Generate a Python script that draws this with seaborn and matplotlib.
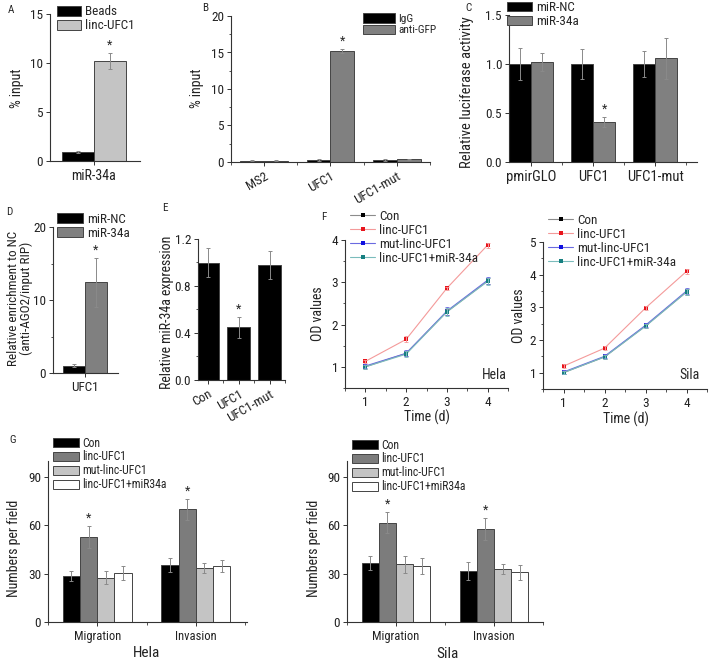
import pandas as pd
import numpy as np
import matplotlib
matplotlib.use("Agg")
import matplotlib.pyplot as plt
import seaborn as sns
from matplotlib.patches import Patch
from matplotlib.lines import Line2D
from matplotlib.ticker import MultipleLocator, FixedLocator

# ---- data ----
A_cats = ['miR-34a']
A_groups = ['Beads', 'linc-UFC1']
A_vals = [[0.9], [10.2]]
A_err = [[0.1], [0.8]]

B_cats = ['MS2', 'UFC1', 'UFC1-mut']
B_groups = ['IgG', 'anti-GFP']
B_vals = [[0.2, 0.3, 0.3], [0.2, 15.2, 0.35]]
B_err = [[0.04, 0.1, 0.1], [0.04, 0.3, 0.08]]

C_cats = ['pmirGLO', 'UFC1', 'UFC1-mut']
C_groups = ['miR-NC', 'miR-34a']
C_vals = [[1.0, 1.0, 1.0], [1.02, 0.41, 1.06]]
C_err = [[0.16, 0.15, 0.13], [0.09, 0.05, 0.21]]

D_cats = ['UFC1']
D_groups = ['miR-NC', 'miR-34a']
D_vals = [[1.0], [12.4]]
D_err = [[0.2], [3.3]]

E_cats = ['Con', 'UFC1', 'UFC1-mut']
E_vals = [1.0, 0.45, 0.98]
E_err = [0.12, 0.09, 0.12]

F_days = [1, 2, 3, 4]
F_groups = ['Con', 'linc-UFC1', 'mut-linc-UFC1', 'linc-UFC1+miR-34a']
F_hela = [[1.0, 1.32, 2.3, 3.03],
          [1.13, 1.65, 2.86, 3.88],
          [1.02, 1.32, 2.32, 3.05],
          [1.0, 1.3, 2.3, 3.02]]
F_hela_err = [[0.05, 0.06, 0.08, 0.07],
              [0.04, 0.07, 0.04, 0.06],
              [0.05, 0.07, 0.1, 0.08],
              [0.05, 0.07, 0.1, 0.08]]
F_sila = [[1.0, 1.48, 2.43, 3.47],
          [1.2, 1.75, 2.98, 4.1],
          [1.02, 1.5, 2.45, 3.5],
          [1.0, 1.48, 2.42, 3.47]]
F_sila_err = [[0.05, 0.06, 0.06, 0.1],
              [0.06, 0.07, 0.05, 0.07],
              [0.05, 0.06, 0.06, 0.1],
              [0.05, 0.06, 0.06, 0.1]]

G_cats = ['Migration', 'Invasion']
G_groups = ['Con', 'linc-UFC1', 'mut-linc-UFC1', 'linc-UFC1+miR34a']
G_hela = [[28.4, 35.5], [52.8, 70.0], [27.5, 33.5], [30.3, 34.8]]
G_hela_err = [[3.2, 4.3], [7.0, 6.5], [4.2, 3.2], [4.3, 3.5]]
G_sila = [[36.8, 31.8], [61.8, 57.8], [35.8, 32.8], [34.8, 30.8]]
G_sila_err = [[4.3, 5.5], [6.3, 7.0], [5.5, 3.2], [5.0, 4.5]]

# ---- style ----
FS = 9.5
AFS = 10
sns.set_style("ticks")
plt.rcParams['font.family'] = ['Roboto Condensed', 'Liberation Sans', 'DejaVu Sans']
plt.rcParams['font.size'] = FS
plt.rcParams['axes.labelsize'] = AFS
plt.rcParams['xtick.labelsize'] = FS
plt.rcParams['ytick.labelsize'] = FS
plt.rcParams['axes.linewidth'] = 0.8
plt.rcParams['axes.edgecolor'] = '#333333'
plt.rcParams['xtick.color'] = '#333333'
plt.rcParams['ytick.color'] = '#333333'
plt.rcParams['xtick.labelcolor'] = '#222222'
plt.rcParams['ytick.labelcolor'] = '#222222'
plt.rcParams['axes.labelcolor'] = '#222222'
plt.rcParams['xtick.major.size'] = 3
plt.rcParams['ytick.major.size'] = 3
plt.rcParams['xtick.minor.size'] = 1.8
plt.rcParams['ytick.minor.size'] = 1.8
plt.rcParams['xtick.major.width'] = 0.7
plt.rcParams['ytick.major.width'] = 0.7
plt.rcParams['xtick.major.pad'] = 2.5
plt.rcParams['ytick.major.pad'] = 2

W, H = 709, 661
fig = plt.figure(figsize=(W / 100, H / 100), dpi=100)
PX = 100 / 72  # pixels per point


def add_ax(l, t, r, b):
    ax = fig.add_axes([l / W, 1 - b / H, (r - l) / W, (b - t) / H])
    sns.despine(ax=ax)
    return ax


def fpos(x, y):
    return (x / W, 1 - y / H)


def bar_panel(ax, cats, groups, vals, errs, colors, width, stars=()):
    rows = []
    for g, v in zip(groups, vals):
        for c, y in zip(cats, v):
            rows.append({'cat': c, 'grp': g, 'val': y})
    df = pd.DataFrame(rows)
    sns.barplot(data=df, x='cat', y='val', hue='grp', hue_order=groups,
                palette=colors, width=width, errorbar=None,
                edgecolor='#444444', linewidth=0.7, saturation=1,
                legend=False, ax=ax)
    bars = [p for p in ax.patches if p.get_height() > 0]
    bars.sort(key=lambda p: p.get_x())
    nh = len(groups)
    for k, bar in enumerate(bars):
        i, j = divmod(k, nh)
        xc = bar.get_x() + bar.get_width() / 2
        ax.errorbar(xc, vals[j][i], yerr=errs[j][i], fmt='none',
                    ecolor='#8a8a8a', elinewidth=0.7, capsize=1.6,
                    capthick=0.7)
        if (j, i) in stars:
            ax.annotate('*', (xc, vals[j][i] + errs[j][i]),
                        xytext=(0, 1), textcoords='offset points',
                        ha='center', va='bottom', fontsize=9)
    ax.set_xlabel('')
    ax.set_ylabel('')


def legend_px(ax, handles, x, yc, fs, hw, hh, gap=0.3):
    # x: left of handle, yc: centre of first row, sizes in pixels
    fpx = fs * PX
    ax.legend(handles=handles, loc='upper left',
              bbox_to_anchor=fpos(x, yc - 0.55 * fpx),
              bbox_transform=fig.transFigure, frameon=False, borderpad=0,
              borderaxespad=0, handlelength=hw / fpx, handleheight=hh / fpx,
              labelspacing=0.08, handletextpad=gap, fontsize=fs)


def patch_legend(ax, groups, colors, x, yc, fs, hw, hh):
    handles = [Patch(facecolor=c, edgecolor='#444444', linewidth=0.7, label=g)
               for g, c in zip(groups, colors)]
    legend_px(ax, handles, x, yc, fs, hw, hh)


def minor_between(ax, n):
    ax.xaxis.set_minor_locator(FixedLocator(np.arange(-0.5, n, 1.0)))


def ylab(ax, text, x, y, **kw):
    # x is the right edge of the rotated label
    ax.set_ylabel(text, **kw)
    ax.yaxis.set_label_coords(*fpos(x, y), transform=fig.transFigure)


def xlab(ax, text, x, y, **kw):
    # y is the top edge of the label
    ax.set_xlabel(text, **kw)
    ax.xaxis.set_label_coords(*fpos(x, y), transform=fig.transFigure)


# ---- A ----
ax = add_ax(50, 14, 140, 161)
colA = ['#000000', '#c4c4c4']
bar_panel(ax, A_cats, A_groups, A_vals, A_err, colA, 0.8, stars={(1, 0)})
ax.set_ylim(0, 15)
ax.set_xlim(-0.55, 0.575)
ax.yaxis.set_major_locator(MultipleLocator(5))
ax.tick_params(axis='x', labelsize=10)
ylab(ax, '% input', 24, 88)
patch_legend(ax, A_groups, colA, 57, 12.5, 9.5, 24, 10)
fig.text(*fpos(8, 10), 'A', fontsize=8, va='center')

# ---- B ----
ax = add_ax(231, 16, 430, 162)
colB = ['#000000', '#808080']
bar_panel(ax, B_cats, B_groups, B_vals, B_err, colB, 0.72, stars={(1, 1)})
ax.set_ylim(0, 20)
ax.set_xlim(-0.5, 2.5)
ax.yaxis.set_major_locator(MultipleLocator(5))
ax.yaxis.set_minor_locator(MultipleLocator(2.5))
minor_between(ax, 3)
plt.setp(ax.get_xticklabels(), rotation=30, ha='right', rotation_mode='anchor')
ylab(ax, '% input', 204, 88)
patch_legend(ax, B_groups, colB, 363, 19.5, 8.2, 32, 10)
fig.text(*fpos(202, 8), 'B', fontsize=8, va='center')

# ---- C ----
ax = add_ax(509, 15, 697, 162)
colC = ['#000000', '#808080']
bar_panel(ax, C_cats, C_groups, C_vals, C_err, colC, 0.71, stars={(1, 1)})
ax.set_ylim(0, 1.5)
ax.set_xlim(-0.36, 2.67)
ax.yaxis.set_major_locator(MultipleLocator(0.5))
ax.yaxis.set_major_formatter(matplotlib.ticker.FormatStrFormatter('%.1f'))
minor_between(ax, 3)
ax.tick_params(axis='x', labelsize=10.5)
ylab(ax, 'Relative luciferase activity', 474, 92, fontsize=10.5)
patch_legend(ax, C_groups, colC, 507, 8, 9.5, 25, 9)
fig.text(*fpos(465, 8), 'C', fontsize=8, va='center')

# ---- D ----
ax = add_ax(53, 227, 118, 373)
colD = ['#000000', '#808080']
bar_panel(ax, D_cats, D_groups, D_vals, D_err, colD, 0.8, stars={(1, 0)})
ax.set_ylim(0, 20)
ax.set_xlim(-0.58, 0.6)
ax.yaxis.set_major_locator(MultipleLocator(10))
ax.yaxis.set_minor_locator(MultipleLocator(5))
ylab(ax, 'Relative enrichment to NC\n(anti-AGO2/input RIP)', 33, 298,
     linespacing=1.0, fontsize=9.5)
patch_legend(ax, D_groups, colD, 57, 220, 9.5, 26, 9.5)
fig.text(*fpos(6, 212), 'D', fontsize=8, va='center')

# ---- E ----
ax = add_ax(198, 239, 285, 380)
bar_panel(ax, E_cats, ['E'], [E_vals], [E_err], ['#000000'], 0.74,
          stars={(0, 1)})
ax.set_ylim(0, 1.2)
ax.set_xlim(-0.32, 2.5)
ax.yaxis.set_major_locator(MultipleLocator(0.4))
ax.yaxis.set_minor_locator(MultipleLocator(0.2))
ax.yaxis.set_major_formatter(matplotlib.ticker.FormatStrFormatter('%.1f'))
minor_between(ax, 3)
plt.setp(ax.get_xticklabels(), rotation=30, ha='right', rotation_mode='anchor')
ylab(ax, 'Relative miR-34a expression', 174, 312)
fig.text(*fpos(162, 208), 'E', fontsize=8, va='center')

# ---- F ----
F_mark = ['#000000', '#e8141c', '#1010e0', '#167f80']
F_line = ['#8c8c8c', '#f49a9a', '#6a6ae0', '#7bbcbc']


def line_panel(ax, vals, errs, ymax, name, leg_x, leg_y, txt_xy):
    rows = []
    for g, v in zip(F_groups, vals):
        for d, y in zip(F_days, v):
            rows.append({'day': d, 'od': y, 'grp': g})
    df = pd.DataFrame(rows)
    sns.lineplot(data=df, x='day', y='od', hue='grp', hue_order=F_groups,
                 palette=F_mark, marker='s', markersize=3.2, linewidth=0.8,
                 markeredgewidth=0, legend=False, ax=ax)
    for ln, lc, mc in zip(ax.lines, F_line, F_mark):
        ln.set_color(lc)
        ln.set_markerfacecolor(mc)
        ln.set_markeredgecolor(mc)
    for v, e, lc in zip(vals, errs, F_line):
        ax.errorbar(F_days, v, yerr=e, fmt='none', ecolor=lc, elinewidth=0.7,
                    capsize=1.5, capthick=0.6)
    ax.set_xlim(0.5, 4.5)
    ax.set_ylim(0.5, ymax)
    ax.xaxis.set_major_locator(MultipleLocator(1))
    ax.xaxis.set_minor_locator(MultipleLocator(0.5))
    ax.yaxis.set_major_locator(MultipleLocator(1))
    ax.yaxis.set_minor_locator(MultipleLocator(0.5))
    handles = [Line2D([], [], color=lc, lw=0.8, marker='s', markersize=3.2,
                      markerfacecolor=mc, markeredgewidth=0, label=g)
               for g, lc, mc in zip(F_groups, F_line, F_mark)]
    legend_px(ax, handles, leg_x, leg_y, 9.5, 25, 8, gap=0.3)
    fig.text(*fpos(*txt_xy), name, fontsize=10, ha='right', va='center')


ax = add_ax(345, 240, 508, 388)
line_panel(ax, F_hela, F_hela_err, 4.0, 'Hela', 350, 217, (507, 375))
ylab(ax, 'OD values', 325, 314)
xlab(ax, 'Time (d)', 427, 410)
fig.text(*fpos(321, 217), 'F', fontsize=8, va='center')

ax = add_ax(543, 242, 707, 389)
line_panel(ax, F_sila, F_sila_err, 5.0, 'Sila', 548, 221, (700, 375))
ylab(ax, 'OD values', 526, 316)
xlab(ax, 'Time (d)', 626, 412)

# ---- G ----
colG = ['#000000', '#7c7c7c', '#c4c4c4', '#ffffff']

ax = add_ax(48, 461, 247, 622)
bar_panel(ax, G_cats, G_groups, G_hela, G_hela_err, colG, 0.7,
          stars={(1, 0), (1, 1)})
ax.set_ylim(0, 100)
ax.set_xlim(-0.5, 1.52)
ax.yaxis.set_major_locator(FixedLocator([0, 30, 60, 90]))
minor_between(ax, 2)
ax.tick_params(axis='x', labelsize=9)
ylab(ax, 'Numbers per field', 21, 548)
xlab(ax, 'Hela', 146, 646, fontsize=11)
patch_legend(ax, G_groups, colG, 53, 443, 8.5, 26, 10)
fig.text(*fpos(9, 440), 'G', fontsize=8, va='center')

ax = add_ax(347, 461, 543, 622)
bar_panel(ax, G_cats, G_groups, G_sila, G_sila_err, colG, 0.7,
          stars={(1, 0), (1, 1)})
ax.set_ylim(0, 100)
ax.set_xlim(-0.5, 1.5)
ax.yaxis.set_major_locator(FixedLocator([0, 30, 60, 90]))
minor_between(ax, 2)
ax.tick_params(axis='x', labelsize=9)
ylab(ax, 'Numbers per field', 321, 548)
xlab(ax, 'Sila', 447, 647, fontsize=11)
patch_legend(ax, G_groups, colG, 352, 445, 8.5, 26, 10)

fig.savefig("out.png", dpi=100)
